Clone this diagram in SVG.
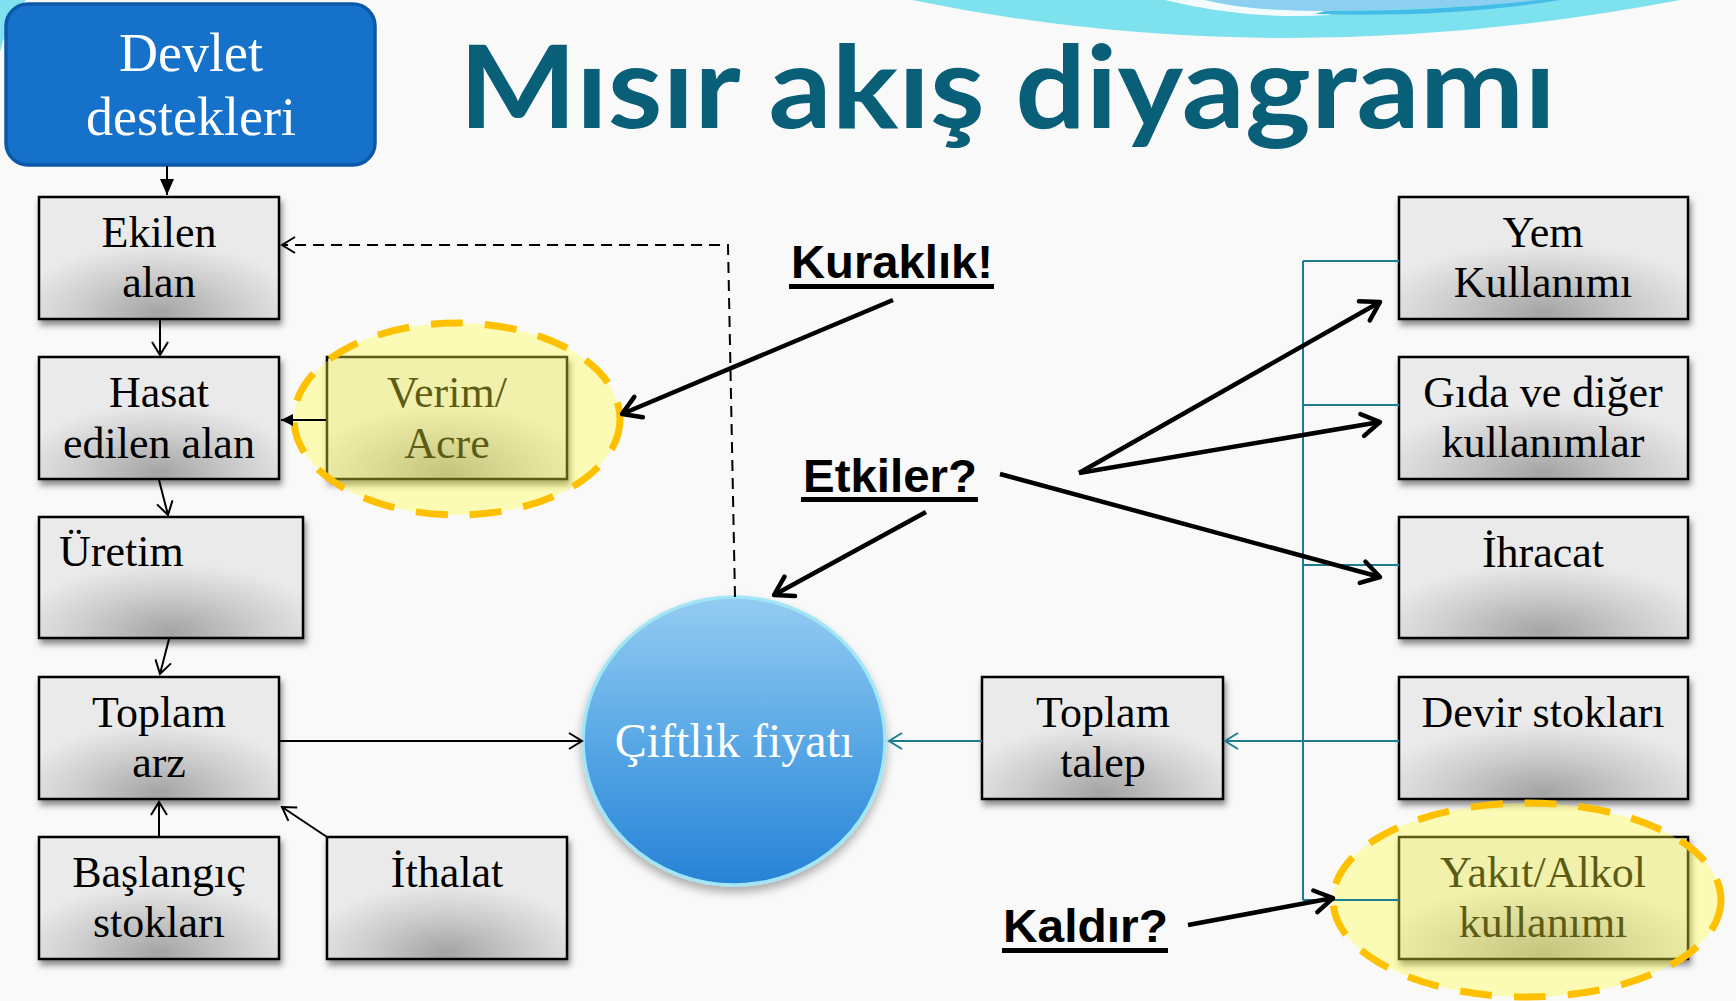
<svg xmlns="http://www.w3.org/2000/svg" width="1736" height="1001" viewBox="0 0 1736 1001">
<style>
.box{fill:url(#gbox);stroke:#000;stroke-width:2.5;filter:url(#sh)}
.t{font-family:"Liberation Serif","Times New Roman",serif;font-size:44px;fill:#000;text-anchor:middle}
.lab{font-family:"Liberation Sans",Arial,sans-serif;font-weight:bold;font-size:47px;fill:#000}
.hl{fill:#FFFF40;fill-opacity:0.36;stroke:#FFC000;stroke-width:7;stroke-dasharray:32 22}
.thin{fill:none;stroke:#000;stroke-width:2}
.teal{fill:none;stroke:#1F7A93;stroke-width:2}
.thick{fill:none;stroke:#000;stroke-width:4.5}
</style>
<defs>
<radialGradient id="gbox" cx="0.5" cy="1" r="0.62" fx="0.5" fy="0.95">
<stop offset="0" stop-color="#A4A4A4"/>
<stop offset="0.55" stop-color="#CDCDCD"/>
<stop offset="1" stop-color="#EAEAEA"/>
</radialGradient>
<linearGradient id="gcirc" x1="0" y1="0" x2="0" y2="1">
<stop offset="0" stop-color="#94CCF2"/>
<stop offset="0.5" stop-color="#59A8E6"/>
<stop offset="1" stop-color="#2682D6"/>
</linearGradient>
<filter id="sh" x="-10%" y="-10%" width="125%" height="130%">
<feDropShadow dx="2" dy="5" stdDeviation="3" flood-color="#000" flood-opacity="0.45"/>
</filter>
<filter id="shc" x="-15%" y="-15%" width="130%" height="135%">
<feDropShadow dx="0" dy="6" stdDeviation="5" flood-color="#000" flood-opacity="0.3"/>
</filter>
<marker id="mo" viewBox="-16 -10 18 20" refX="0" refY="0" markerWidth="18" markerHeight="20" markerUnits="userSpaceOnUse" orient="auto">
<path d="M-13,-8 L0,0 L-13,8" fill="none" stroke="#000" stroke-width="2"/>
</marker>
<marker id="mt" viewBox="-16 -10 18 20" refX="0" refY="0" markerWidth="18" markerHeight="20" markerUnits="userSpaceOnUse" orient="auto">
<path d="M-13,-8 L0,0 L-13,8" fill="none" stroke="#1F7A93" stroke-width="2"/>
</marker>
<marker id="mf" viewBox="-18 -10 20 20" refX="0" refY="0" markerWidth="20" markerHeight="20" markerUnits="userSpaceOnUse" orient="auto">
<path d="M-16,-7 L0,0 L-16,7 Z" fill="#000"/>
</marker>
<marker id="mfs" viewBox="-14 -8 16 16" refX="0" refY="0" markerWidth="16" markerHeight="16" markerUnits="userSpaceOnUse" orient="auto">
<path d="M-12,-6 L0,0 L-12,6 Z" fill="#000"/>
</marker>
<marker id="mk" viewBox="-24 -14 28 28" refX="0" refY="0" markerWidth="28" markerHeight="28" markerUnits="userSpaceOnUse" orient="auto">
<path d="M-18,-11 L0,0 L-18,11" fill="none" stroke="#000" stroke-width="4.5" stroke-linecap="round" stroke-linejoin="round"/>
</marker>
</defs>

<rect x="0" y="0" width="1736" height="1001" fill="#F9F9F9"/>
<g id="decor">
<path d="M0,0 L26,0 Q8,18 0,52 Z" fill="#7FE2EE"/>
<path d="M912,0 Q1280,76 1680,0 Z" fill="#7EE1EE"/>
<path d="M1165,0 Q1245,20 1330,15 L1330,10 Q1250,12 1205,0 Z" fill="#F4FBFD"/>
<path d="M1205,0 Q1260,12 1330,11 Q1450,9 1560,0 Z" fill="#8DCFF1"/>
<path d="M1315,14 Q1450,18 1560,0 L1540,0 Q1440,11 1325,11 Z" fill="#43BDE8"/>
</g>

<text x="459" y="128" font-family="Lato,'Open Sans',sans-serif" font-weight="bold" font-size="115" fill="#0A5F78" textLength="1097" lengthAdjust="spacingAndGlyphs">Mısır akış diyagramı</text>

<g id="devlet">
<rect x="6" y="4" width="369" height="161" rx="22" fill="#1571C9" stroke="#0B58A8" stroke-width="3.5"/>
<text class="t" x="191" y="71" style="fill:#fff;font-size:54px">Devlet</text>
<text class="t" x="191" y="135" style="fill:#fff;font-size:54px">destekleri</text>
</g>

<g id="ekilen">
<rect class="box" x="39" y="197" width="240" height="122"/>
<text class="t" x="159" y="247">Ekilen</text>
<text class="t" x="159" y="297">alan</text>
</g>
<g id="hasat">
<rect class="box" x="39" y="357" width="240" height="122"/>
<text class="t" x="159" y="407">Hasat</text>
<text class="t" x="159" y="458">edilen alan</text>
</g>
<g id="uretim">
<rect class="box" x="39" y="517" width="264" height="121"/>
<text class="t" x="59" y="566" style="text-anchor:start">Üretim</text>
</g>
<g id="toplam-arz">
<rect class="box" x="39" y="677" width="240" height="122"/>
<text class="t" x="159" y="727">Toplam</text>
<text class="t" x="159" y="777">arz</text>
</g>
<g id="baslangic">
<rect class="box" x="39" y="837" width="240" height="122"/>
<text class="t" x="159" y="887">Başlangıç</text>
<text class="t" x="159" y="937">stokları</text>
</g>
<g id="ithalat">
<rect class="box" x="327" y="837" width="240" height="122"/>
<text class="t" x="447" y="887">İthalat</text>
</g>
<g id="verim">
<rect class="box" x="327" y="357" width="240" height="122"/>
<text class="t" x="447" y="407">Verim/</text>
<text class="t" x="447" y="458">Acre</text>
<ellipse class="hl" cx="457" cy="419" rx="163" ry="96"/>
</g>
<g id="ciftlik">
<ellipse cx="734" cy="741" rx="151" ry="144" fill="url(#gcirc)" stroke="#A2E6F6" stroke-width="3.5" filter="url(#shc)"/>
<text class="t" x="734" y="757" style="fill:#fff;font-size:48px">Çiftlik fiyatı</text>
</g>
<g id="toplam-talep">
<rect class="box" x="982" y="677" width="241" height="122"/>
<text class="t" x="1103" y="727">Toplam</text>
<text class="t" x="1103" y="777">talep</text>
</g>
<g id="yem">
<rect class="box" x="1399" y="197" width="289" height="122"/>
<text class="t" x="1543" y="247">Yem</text>
<text class="t" x="1543" y="297">Kullanımı</text>
</g>
<g id="gida">
<rect class="box" x="1399" y="357" width="289" height="122"/>
<text class="t" x="1543" y="407">Gıda ve diğer</text>
<text class="t" x="1543" y="457">kullanımlar</text>
</g>
<g id="ihracat">
<rect class="box" x="1399" y="517" width="289" height="121"/>
<text class="t" x="1543" y="567">İhracat</text>
</g>
<g id="devir">
<rect class="box" x="1399" y="677" width="289" height="122"/>
<text class="t" x="1543" y="727">Devir stokları</text>
</g>
<g id="yakit">
<rect class="box" x="1399" y="837" width="289" height="122"/>
<text class="t" x="1543" y="887">Yakıt/Alkol</text>
<text class="t" x="1543" y="937">kullanımı</text>
<ellipse class="hl" cx="1527" cy="900" rx="194" ry="97"/>
</g>

<g id="labels">
<text class="lab" x="791" y="278" textLength="202" lengthAdjust="spacingAndGlyphs">Kuraklık!</text>
<rect x="789" y="284" width="205" height="5" fill="#000"/>
<text class="lab" x="803" y="492" textLength="174" lengthAdjust="spacingAndGlyphs">Etkiler?</text>
<rect x="801" y="497" width="177" height="5" fill="#000"/>
<text class="lab" x="1003" y="942" textLength="165" lengthAdjust="spacingAndGlyphs">Kaldır?</text>
<rect x="1002" y="948" width="166" height="5" fill="#000"/>
</g>

<g id="connectors">
<path class="thin" d="M167,166 L167,195" marker-end="url(#mf)"/>
<path class="thin" d="M735,597 L728,245 L282,245" stroke-dasharray="11 7" marker-end="url(#mo)"/>
<path class="thin" d="M160,320 L160,355" marker-end="url(#mo)"/>
<path class="thin" d="M326,420 L281,420" marker-end="url(#mfs)"/>
<path class="thin" d="M159,480 L168,515" marker-end="url(#mo)"/>
<path class="thin" d="M169,639 L160,674" marker-end="url(#mo)"/>
<path class="thin" d="M159,837 L159,802" marker-end="url(#mo)"/>
<path class="thin" d="M327,837 L282,807" marker-end="url(#mo)"/>
<path class="thin" d="M280,741 L582,741" marker-end="url(#mo)"/>
<path class="teal" d="M982,741 L889,741" marker-end="url(#mt)"/>
<path class="teal" d="M1303,261 L1303,900"/>
<path class="teal" d="M1303,261 L1399,261 M1303,405 L1399,405 M1303,565 L1399,565 M1303,900 L1399,900"/>
<path class="teal" d="M1399,741 L1225,741" marker-end="url(#mt)"/>
<path class="thick" d="M893,300 L622,414" marker-end="url(#mk)"/>
<path class="thick" d="M926,512 L774,595" marker-end="url(#mk)"/>
<path class="thick" d="M1000,474 L1380,577" marker-end="url(#mk)"/>
<path class="thick" d="M1079,473 L1380,302" marker-end="url(#mk)"/>
<path class="thick" d="M1079,473 L1380,422" marker-end="url(#mk)"/>
<path class="thick" d="M1188,925 L1333,898" marker-end="url(#mk)"/>
</g>
</svg>
